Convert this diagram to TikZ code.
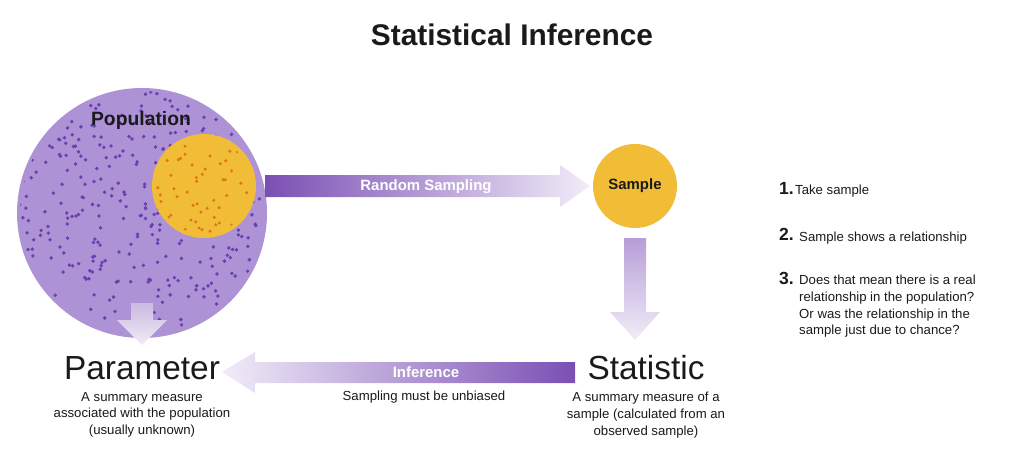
\documentclass[tikz,border=0pt]{standalone}
\usepackage{fontspec}
\setmainfont{Liberation Sans}
\definecolor{pop}{HTML}{AD93D6}
\definecolor{popdot}{HTML}{6A3FB0}
\definecolor{samp}{HTML}{F2BD36}
\definecolor{sampdot}{HTML}{E0741C}
\definecolor{bar}{HTML}{7A4FB4}
\definecolor{pale}{HTML}{F1ECF8}
\definecolor{txt}{HTML}{1A1A1A}
\begin{document}
\begin{tikzpicture}[x=0.02cm,y=-0.02cm,font=\fontsize{7.5}{9}\selectfont,txt,
  big/.style={font=\fontsize{19}{22}\selectfont},
  desc/.style={align=center,font=\fontsize{7.5}{9.5}\selectfont},
  item/.style={anchor=north west,align=left,font=\fontsize{7.5}{9.5}\selectfont},
  num/.style={anchor=north west,font=\bfseries\fontsize{10}{11}\selectfont}]
\useasboundingbox (0,0) rectangle (1024,457);
\node[font=\bfseries\fontsize{17}{20}\selectfont] (title) at (512,35) {Statistical Inference};
% population with dots
\fill[pop] (142,213) circle (125);
\begin{scope}
\clip (142,213) circle (122);
\pgfmathsetseed{11}
\foreach \i in {1,...,380}{
  \pgfmathsetmacro{\px}{17+rnd*250}
  \pgfmathsetmacro{\py}{88+rnd*250}
  \fill[popdot] (\px,\py) circle (1.9);
}
\end{scope}
\fill[samp] (204,186) circle (52);
\begin{scope}
\clip (204,186) circle (48);
\pgfmathsetseed{5}
\foreach \i in {1,...,60}{
  \pgfmathsetmacro{\px}{152+rnd*104}
  \pgfmathsetmacro{\py}{134+rnd*104}
  \fill[sampdot] (\px,\py) circle (1.7);
}
\end{scope}
\node[font=\bfseries\fontsize{11}{13}\selectfont] (population) at (141,120) {Population};
% arrow under the population
\shade[top color=bar!40,bottom color=pale] (131,303) -- (153,303) -- (153,320) -- (167,320) -- (142,345) -- (117,320) -- (131,320) -- cycle;
% random sampling arrow
\shade[left color=bar,right color=pale] (265,175) -- (560,175) -- (560,165) -- (590,186) -- (560,207) -- (560,197) -- (265,197) -- cycle;
\node[white,font=\bfseries\fontsize{8.5}{10}\selectfont] (rs) at (426,187) {Random Sampling};
\fill[samp] (635,186) circle (42);
\node[font=\bfseries\fontsize{8.5}{10}\selectfont] (sample) at (635,186) {Sample};
% arrow under the sample
\shade[top color=bar!55,bottom color=pale] (624,238) -- (646,238) -- (646,312) -- (660,312) -- (635,340) -- (610,312) -- (624,312) -- cycle;
% inference arrow
\shade[left color=pale,right color=bar] (575,362) -- (255,362) -- (255,352) -- (222,372) -- (255,393) -- (255,383) -- (575,383) -- cycle;
\node[white,font=\bfseries\fontsize{8.5}{10}\selectfont] (inf) at (426,372) {Inference};
\node (unb) at (424,397) {Sampling must be unbiased};
% bottom labels
\node[big] (param) at (142,368) {Parameter};
\node[desc,anchor=north] (pdesc) at (142,386) {A summary measure\\associated with the population\\(usually unknown)};
\node[big] (stat) at (646,368) {Statistic};
\node[desc,anchor=north] (sdesc) at (646,386) {A summary measure of a\\sample (calculated from an\\observed sample)};
% list
\node[num] (n1) at (773,176) {1.};
\node[item] (t1) at (789,179) {Take sample};
\node[num] (n2) at (773,222) {2.};
\node[item] (t2) at (793,226) {Sample shows a relationship};
\node[num] (n3) at (773,266) {3.};
\node[item] (t3) at (793,269) {Does that mean there is a real\\relationship in the population?\\Or was the relationship in the\\sample just due to chance?};
\end{tikzpicture}
\end{document}
